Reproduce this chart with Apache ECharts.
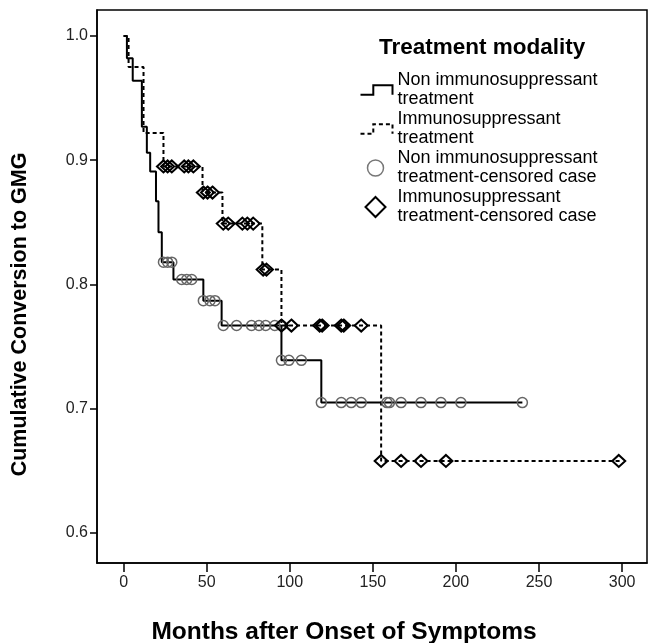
<!DOCTYPE html>
<html>
<head>
<meta charset="utf-8">
<script src="https://cdn.jsdelivr.net/npm/echarts@6/dist/echarts.min.js"></script>
<style>html,body{margin:0;padding:0;background:#fff;}#c{width:652px;height:643px;}</style>
</head>
<body>
<div id="c"></div>
<script>
// ---- data ----
const xTicks = [0, 50, 100, 150, 200, 250, 300];
const yTicks = [0.6, 0.7, 0.8, 0.9, 1.0];

const seriesNames = [
  'Non immunosuppressant treatment',
  'Immunosuppressant treatment',
  'Non immunosuppressant treatment-censored case',
  'Immunosuppressant treatment-censored case'
];
const legendLabels = [
  'Non immunosuppressant\ntreatment',
  'Immunosuppressant\ntreatment',
  'Non immunosuppressant\ntreatment-censored case',
  'Immunosuppressant\ntreatment-censored case'
];

// Non immunosuppressant: step curve
const nonTimes = [0, 2, 5.5, 11, 14, 16, 19.5, 21, 23, 30, 48, 59, 95, 119, 240];
const nonSurv  = [1.0, 0.982, 0.964, 0.927, 0.906, 0.891, 0.867, 0.842, 0.818, 0.804, 0.787, 0.767, 0.739, 0.705, 0.705];
// Immunosuppressant: step curve
const immTimes = [0, 3, 12, 24, 47.5, 59.5, 83.5, 95, 155, 300];
const immSurv  = [1.0, 0.975, 0.922, 0.895, 0.874, 0.849, 0.812, 0.767, 0.658, 0.658];

// censored cases
const nonCensTimes = [24, 26.5, 29, 35, 38, 41, 48, 52, 55, 60, 68, 77, 81.5, 85.5, 91, 95, 95, 99.5, 107, 119, 131, 137, 143, 158.5, 160, 167, 179, 191, 203, 240];
const nonCensSurv  = [0.818, 0.818, 0.818, 0.804, 0.804, 0.804, 0.787, 0.787, 0.787, 0.767, 0.767, 0.767, 0.767, 0.767, 0.767, 0.767, 0.739, 0.739, 0.739, 0.705, 0.705, 0.705, 0.705, 0.705, 0.705, 0.705, 0.705, 0.705, 0.705, 0.705];
const immCensTimes = [24, 26.5, 29, 36.5, 39, 42, 48, 50.5, 53.5, 60, 63, 71.5, 74.5, 78, 84, 86, 95, 101, 118, 119.5, 131, 132.5, 143, 155, 167, 179, 194, 298];
const immCensSurv  = [0.895, 0.895, 0.895, 0.895, 0.895, 0.895, 0.874, 0.874, 0.874, 0.849, 0.849, 0.849, 0.849, 0.849, 0.812, 0.812, 0.767, 0.767, 0.767, 0.767, 0.767, 0.767, 0.767, 0.658, 0.658, 0.658, 0.658, 0.658];

const zip = (a, b) => a.map((v, i) => [v, b[i]]);
const FONT = '"Liberation Sans", Arial, sans-serif';

const chart = echarts.init(document.getElementById('c'), null, {renderer: 'canvas'});
chart.setOption({
  animation: false,
  backgroundColor: '#fff',
  textStyle: {fontFamily: FONT},
  title: {
    text: 'Treatment modality',
    left: 379, top: 36, padding: 0,
    textStyle: {fontFamily: FONT, fontSize: 22.5, fontWeight: 'bold', color: '#000'}
  },
  legend: [
    {
      orient: 'vertical', left: 358, top: 71, padding: 0,
      itemWidth: 32, itemHeight: 14, itemGap: 1,
      selectedMode: false,
      formatter: n => legendLabels[seriesNames.indexOf(n)],
      textStyle: {fontFamily: FONT, fontSize: 18, lineHeight: 19, color: '#000'},
      data: [
        {name: seriesNames[0], icon: 'path://M0,9L12,9L12,0L30,0L30,9',
         itemStyle: {color: 'none', borderColor: '#000', borderWidth: 2}},
        {name: seriesNames[1], icon: 'path://M0,9L12,9L12,0L30,0L30,9',
         itemStyle: {color: 'none', borderColor: '#000', borderWidth: 2, borderType: [4, 3]}}
      ]
    },
    {
      orient: 'vertical', left: 363, top: 149, padding: 0,
      itemWidth: 27, itemHeight: 20, itemGap: 1,
      selectedMode: false,
      formatter: n => legendLabels[seriesNames.indexOf(n)],
      textStyle: {fontFamily: FONT, fontSize: 18, lineHeight: 19, color: '#000'},
      data: [
        {name: seriesNames[2], icon: 'path://M0,0M27,20M18,10A8,8,0,1,1,2,10A8,8,0,1,1,18,10Z',
         itemStyle: {color: 'none', borderColor: '#777', borderWidth: 1.5}},
        {name: seriesNames[3], icon: 'path://M27,20M10,0L20,10L10,20L0,10Z',
         itemStyle: {color: 'none', borderColor: '#000', borderWidth: 2}}
      ]
    }
  ],
  grid: {left: 97, right: 5, top: 10, bottom: 80, show: true, borderColor: '#000', borderWidth: 1.5,
    backgroundColor: 'transparent', containLabel: false, outerBoundsMode: 'none'},
  xAxis: {
    type: 'value', min: -16, max: 315,
    name: 'Months after Onset of Symptoms', nameLocation: 'middle', nameGap: 57,
    nameTextStyle: {fontFamily: FONT, fontSize: 24.5, fontWeight: 'bold', color: '#000', padding: [0, 56, 0, 0]},
    axisLine: {show: true, onZero: false, lineStyle: {color: '#000', width: 1.5}},
    axisTick: {show: true, length: 9, customValues: xTicks, lineStyle: {color: '#000', width: 1.5}},
    axisLabel: {customValues: xTicks, margin: 12, fontFamily: FONT, fontSize: 16, color: '#222'},
    splitLine: {show: false}
  },
  yAxis: {
    type: 'value', min: 0.5759, max: 1.0209,
    name: 'Cumulative Conversion to GMG', nameLocation: 'middle', nameGap: 66,
    nameTextStyle: {fontFamily: FONT, fontSize: 21.5, fontWeight: 'bold', color: '#000', padding: [0, 56, 0, 0]},
    axisLine: {show: true, onZero: false, lineStyle: {color: '#000', width: 1.5}},
    axisTick: {show: true, length: 7, customValues: yTicks, lineStyle: {color: '#000', width: 1.5}},
    axisLabel: {customValues: yTicks, margin: 9, fontFamily: FONT, fontSize: 16, color: '#222',
      formatter: v => v.toFixed(1)},
    splitLine: {show: false}
  },
  series: [
    {
      name: seriesNames[0], type: 'line', step: 'end', showSymbol: false, z: 2,
      data: zip(nonTimes, nonSurv),
      itemStyle: {color: '#000'},
      lineStyle: {color: '#000', width: 2}
    },
    {
      name: seriesNames[1], type: 'line', step: 'end', showSymbol: false, z: 2,
      data: zip(immTimes, immSurv),
      itemStyle: {color: '#000'},
      lineStyle: {color: '#000', width: 2, type: [4, 3]}
    },
    {
      name: seriesNames[2], type: 'scatter', symbol: 'circle', symbolSize: 10, z: 3,
      data: zip(nonCensTimes, nonCensSurv),
      itemStyle: {color: 'rgba(0,0,0,0)', borderColor: '#666', borderWidth: 1.5, opacity: 1}
    },
    {
      name: seriesNames[3], type: 'scatter', symbol: 'diamond', symbolSize: [13, 12], z: 4,
      data: zip(immCensTimes, immCensSurv),
      itemStyle: {color: 'rgba(0,0,0,0)', borderColor: '#000', borderWidth: 2, opacity: 1}
    }
  ]
});
</script>
</body>
</html>
